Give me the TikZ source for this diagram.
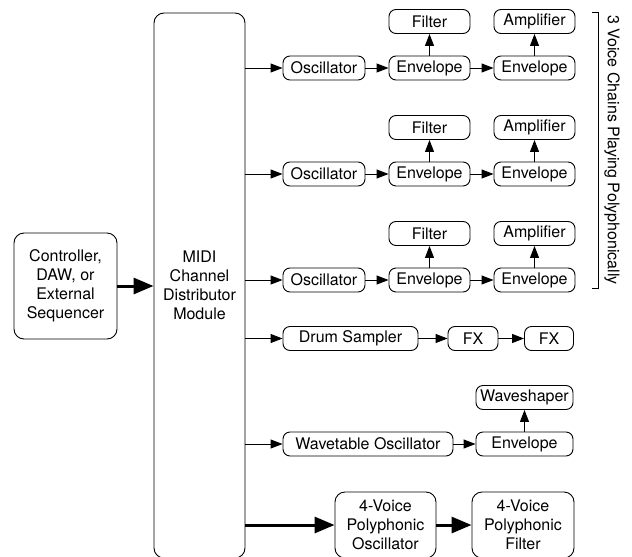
\documentclass[tikz,border=0pt]{standalone}
\usepackage{fontspec}
\setmainfont{TeX Gyre Heros}
\usetikzlibrary{arrows.meta}
\tikzset{
  box/.style={draw, line width=0.9pt, rounded corners=7pt, inner sep=0pt,
    minimum height=24pt, align=center, font=\fontsize{16}{19}\selectfont},
  thin/.style={line width=0.9pt, -{Triangle[length=12pt,width=9pt]}},
  thick/.style={line width=3pt, -{Triangle[length=20pt,width=16pt]}}
}
\begin{document}
\begin{tikzpicture}[x=1pt,y=-1pt]
\useasboundingbox (0,0) rectangle (632,557);
\clip (0,0) rectangle (632,557);
% sources
\node[box, rounded corners=10pt, minimum width=103pt, minimum height=106pt] (ctrl) at (65.5,286) {Controller,\\DAW, or\\External\\Sequencer};
\node[box, rounded corners=10pt, minimum width=91pt, minimum height=545pt] (midi) at (199.5,285.5) {MIDI\\Channel\\Distributor\\Module};
\draw[thick] (ctrl.east) -- (ctrl.east -| midi.west);
% voice chains
\foreach \i/\y in {1/68,2/174,3/280}{
  \node[box, minimum width=82pt] (osc\i) at (324,\y) {Oscillator};
  \node[box, minimum width=81pt] (enva\i) at (429.5,\y) {Envelope};
  \node[box, minimum width=81pt] (envb\i) at (534.5,\y) {Envelope};
  \node[box, minimum width=81pt] (filt\i) at (429.5,\y-46.5) {Filter};
  \node[box, minimum width=81pt] (amp\i) at (534.5,\y-46.5) {Amplifier};
  \draw[thin] (midi.east |- osc\i.west) -- (osc\i.west);
  \draw[thin] (osc\i.east) -- (enva\i.west);
  \draw[thin] (enva\i.east) -- (envb\i.west);
  \draw[thin] (enva\i.north) -- (filt\i.south);
  \draw[thin] (envb\i.north) -- (amp\i.south);
}
% drum row
\node[box, minimum width=135pt] (drum) at (350.5,338.5) {Drum Sampler};
\node[box, minimum width=50pt] (fxa) at (473,338.5) {FX};
\node[box, minimum width=49pt] (fxb) at (549,338.5) {FX};
\draw[thin] (midi.east |- drum.west) -- (drum.west);
\draw[thin] (drum.east) -- (fxa.west);
\draw[thin] (fxa.east) -- (fxb.west);
% wavetable row
\node[box, minimum width=170pt] (wt) at (368,444) {Wavetable Oscillator};
\node[box, minimum width=97pt] (wenv) at (524.5,444) {Envelope};
\node[box, minimum width=97pt] (wsh) at (524.5,397.5) {Waveshaper};
\draw[thin] (midi.east |- wt.west) -- (wt.west);
\draw[thin] (wt.east) -- (wenv.west);
\draw[thin] (wenv.north) -- (wsh.south);
% polyphonic row
\node[box, rounded corners=10pt, minimum width=101pt, minimum height=66pt] (posc) at (385.5,525) {4-Voice\\Polyphonic\\Oscillator};
\node[box, rounded corners=10pt, minimum width=102pt, minimum height=66pt] (pfilt) at (523,525) {4-Voice\\Polyphonic\\Filter};
\draw[thick] (midi.east |- posc.west) -- (posc.west);
\draw[thick] (posc.east) -- (pfilt.west);
% bracket
\coordinate (bt) at (598,12);
\coordinate (bb) at (598,288);
\draw[line width=0.9pt] ([xshift=-6pt]bt) -- (bt) -- (bb) -- ([xshift=-6pt]bb);
\node[rotate=-90, font=\fontsize{16}{19}\selectfont, inner sep=0pt] (lbl) at (612,150) {3 Voice Chains Playing Polyphonically};
\end{tikzpicture}
\end{document}
